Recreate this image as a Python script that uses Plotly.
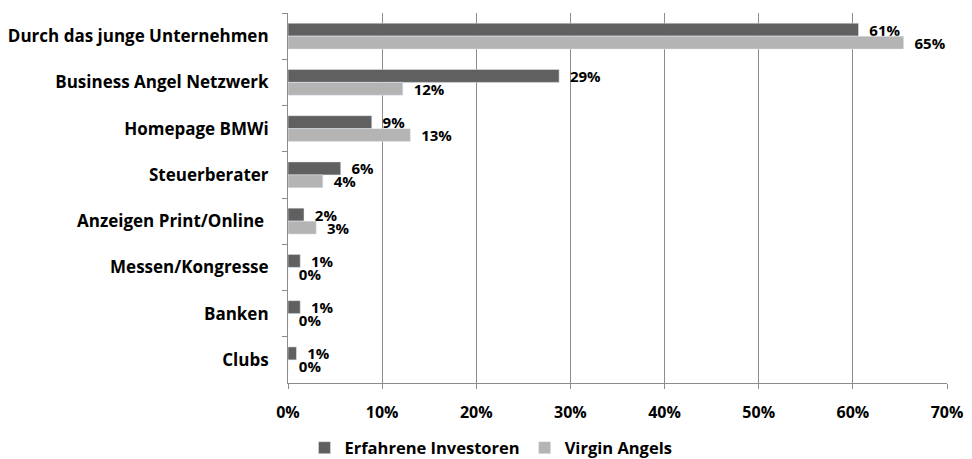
import plotly.graph_objects as go

categories = ["Durch das junge Unternehmen", "Business Angel Netzwerk", "Homepage BMWi",
              "Steuerberater", "Anzeigen Print/Online ", "Messen/Kongresse", "Banken", "Clubs"]
erfahrene = [60.6, 28.8, 8.9, 5.6, 1.7, 1.3, 1.3, 0.9]
virgin = [65.4, 12.2, 13.0, 3.7, 3.0, 0.0, 0.0, 0.0]
x_ticks = [0, 10, 20, 30, 40, 50, 60, 70]
x_tick_labels = ["0%", "10%", "20%", "30%", "40%", "50%", "60%", "70%"]

FONT = "Open Sans"
lbl_font = dict(family=FONT, size=15, color="black", weight="bold")

fig = go.Figure()
fig.add_trace(go.Bar(y=categories, x=erfahrene, orientation="h", name="Erfahrene Investoren",
                     marker=dict(color="#606060"), texttemplate="\u00a0\u00a0%{x:.0f}%",
                     textposition="outside", textfont=lbl_font, cliponaxis=False,
                     constraintext="none"))
fig.add_trace(go.Bar(y=categories, x=virgin, orientation="h", name="Virgin Angels",
                     marker=dict(color="#b4b4b4"), texttemplate="\u00a0\u00a0%{x:.0f}%",
                     textposition="outside", textfont=lbl_font, cliponaxis=False,
                     constraintext="none"))

fig.update_layout(
    width=972, height=459,
    margin=dict(l=288, r=25, t=13, b=76, autoexpand=False),
    paper_bgcolor="white", plot_bgcolor="white",
    barmode="group", bargap=0.44, bargroupgap=0,
    font=dict(family=FONT, size=15, color="black"),
    showlegend=True,
    legend=dict(orientation="h", x=0.025, xref="paper", xanchor="left",
                yref="container", y=0.024, yanchor="middle",
                font=dict(family=FONT, size=16.5, weight="bold"), traceorder="normal",
                itemwidth=30),
)
fig.update_xaxes(range=[0, 70], tickvals=x_ticks, ticktext=x_tick_labels,
                 showgrid=True, gridcolor="#8c8c8c", gridwidth=1,
                 showline=True, linecolor="#8c8c8c", linewidth=1,
                 ticks="outside", ticklen=5, tickcolor="#8c8c8c", ticklabelstandoff=10,
                 tickfont=dict(family=FONT, size=16, weight="bold"), zeroline=False,
                 automargin=False)
fig.update_yaxes(autorange="reversed", showline=True, linecolor="#8c8c8c", linewidth=1,
                 ticks="outside", ticklen=5, tickcolor="#8c8c8c", tickson="boundaries",
                 ticklabelstandoff=15,
                 tickfont=dict(family=FONT, size=17, weight="bold"), showgrid=False,
                 automargin=False)

fig.write_html("out.html", post_script="document.body.style.margin='0';",
               config={"displayModeBar": False})
